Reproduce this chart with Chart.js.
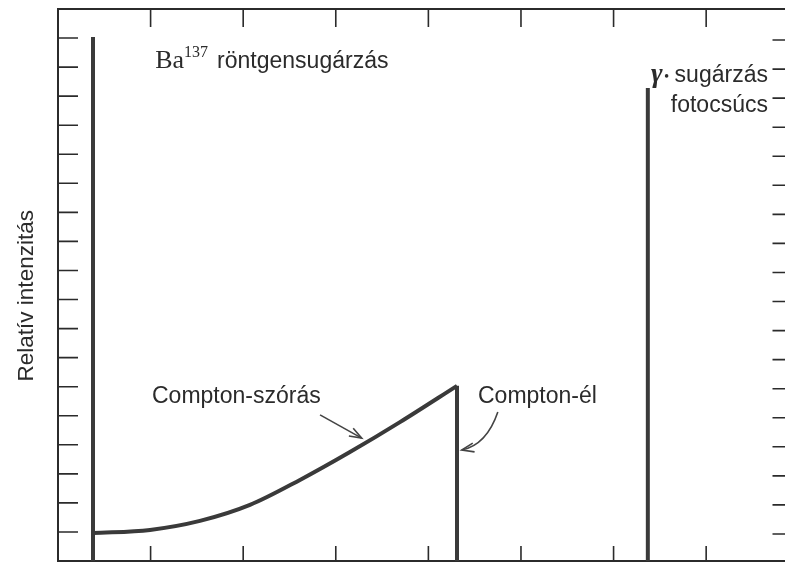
<!DOCTYPE html>
<html>
<head>
<meta charset="utf-8">
<script src="https://cdn.jsdelivr.net/npm/chart.js@4"></script>
<style>
html,body{margin:0;padding:0;overflow:hidden;background:#fff;}
#wrap{width:800px;height:563px;}
</style>
</head>
<body>
<div id="wrap"><canvas id="c" width="800" height="563"></canvas></div>
<script>
// ---- data ----
const xTicks = [1, 2, 3, 4, 5, 6, 7];
const yTicks = [1, 2, 3, 4, 5, 6, 7, 8, 9, 10, 11, 12, 13, 14, 15, 16, 17, 18];
const baX = [0.378, 0.378];
const baY = [0, 18.04];
const comptonX = [0.378, 0.994, 1.533, 2.073, 2.613, 3.153, 3.693, 4.309];
const comptonY = [0.96, 1.07, 1.38, 1.93, 2.79, 3.75, 4.78, 6.03];
const edgeX = [4.309, 4.309];
const edgeY = [6.03, 0];
const gammaX = [6.37, 6.37];
const gammaY = [0, 16.28];
const yTitle = 'Relatív intenzitás';
const labelBa = 'Ba';
const labelBaSup = '137';
const labelBaRest = 'röntgensugárzás';
const labelGamma = 'γ';
const labelGamma2 = 'sugárzás';
const labelPhoto = 'fotocsúcs';
const labelScatter = 'Compton-szórás';
const labelEdge = 'Compton-él';

const pts = (xs, ys) => xs.map((x, i) => ({x: x, y: ys[i]}));
const INK = '#2b2b2b';
const LINE = '#3a3a3a';

const framePlugin = {
  id: 'frame',
  beforeDatasetsDraw(chart) {
    const {ctx, chartArea: a, scales: {x, y}} = chart;
    ctx.save();
    ctx.strokeStyle = INK;
    ctx.lineWidth = 2;
    ctx.strokeRect(a.left, a.top, a.right - a.left, a.bottom - a.top);
    ctx.lineWidth = 1.6;
    ctx.beginPath();
    yTicks.forEach(v => {
      const py = y.getPixelForValue(v);
      ctx.moveTo(a.left, py); ctx.lineTo(a.left + 20, py);
      ctx.moveTo(a.right, py + 2); ctx.lineTo(a.right - 17, py + 2);
    });
    xTicks.forEach(v => {
      const px = x.getPixelForValue(v);
      ctx.moveTo(px, a.top); ctx.lineTo(px, a.top + 18);
      ctx.moveTo(px, a.bottom); ctx.lineTo(px, a.bottom - 15);
    });
    ctx.stroke();
    ctx.restore();
  },
  afterDraw(chart) {
    const {ctx, scales: {x, y}} = chart;
    const P = (dx, dy) => [x.getPixelForValue(dx), y.getPixelForValue(dy)];
    ctx.save();
    ctx.fillStyle = INK;
    ctx.textBaseline = 'alphabetic';
    // y title
    let [tx, ty] = P(-0.265, 9.13);
    ctx.save();
    ctx.translate(tx, ty);
    ctx.rotate(-Math.PI / 2);
    ctx.textAlign = 'center';
    ctx.font = '22.5px "Liberation Sans", Arial, sans-serif';
    ctx.fillText(yTitle, 0, 0);
    ctx.restore();
    // Ba label
    ctx.textAlign = 'left';
    let [bx, by] = P(1.05, 16.97);
    ctx.font = '26px "Liberation Serif", serif';
    ctx.fillText(labelBa, bx, by);
    const wBa = ctx.measureText(labelBa).width;
    ctx.font = '16px "Liberation Serif", serif';
    ctx.fillText(labelBaSup, bx + wBa, by - 11);
    const wSup = ctx.measureText(labelBaSup).width;
    ctx.font = '23px "Liberation Sans", Arial, sans-serif';
    ctx.fillText(labelBaRest, bx + wBa + wSup + 9, by);
    // gamma labels
    ctx.textAlign = 'right';
    let [gx, gy] = P(7.667, 16.49);
    ctx.fillText(labelGamma2, gx, gy);
    const wG2 = ctx.measureText(labelGamma2).width;
    ctx.beginPath();
    ctx.arc(gx - wG2 - 8, gy - 6, 1.8, 0, Math.PI * 2);
    ctx.fill();
    ctx.font = 'italic bold 28px "Liberation Serif", serif';
    ctx.fillText(labelGamma, gx - wG2 - 12, gy);
    ctx.font = '23px "Liberation Sans", Arial, sans-serif';
    let [fx, fy] = P(7.667, 15.46);
    ctx.fillText(labelPhoto, fx, fy);
    // Compton labels
    ctx.textAlign = 'left';
    let [sx, sy] = P(1.015, 5.44);
    ctx.fillText(labelScatter, sx, sy);
    let [ex, ey] = P(4.536, 5.44);
    ctx.fillText(labelEdge, ex, ey);
    // arrows
    ctx.strokeStyle = '#444';
    ctx.lineWidth = 1.6;
    const head = (tipX, tipY, ang) => {
      ctx.beginPath();
      ctx.moveTo(tipX + 13 * Math.cos(ang + 0.35), tipY + 13 * Math.sin(ang + 0.35));
      ctx.lineTo(tipX, tipY);
      ctx.lineTo(tipX + 13 * Math.cos(ang - 0.35), tipY + 13 * Math.sin(ang - 0.35));
      ctx.stroke();
    };
    let [a1x, a1y] = P(2.83, 5.03);
    let [t1x, t1y] = P(3.28, 4.23);
    ctx.beginPath(); ctx.moveTo(a1x, a1y); ctx.lineTo(t1x, t1y); ctx.stroke();
    head(t1x, t1y, Math.atan2(a1y - t1y, a1x - t1x));
    let [a2x, a2y] = P(4.75, 5.13);
    let [c2x, c2y] = P(4.63, 4.0);
    let [t2x, t2y] = P(4.36, 3.82);
    ctx.beginPath(); ctx.moveTo(a2x, a2y); ctx.quadraticCurveTo(c2x, c2y, t2x, t2y); ctx.stroke();
    head(t2x, t2y, Math.atan2(c2y - t2y, c2x - t2x));
    ctx.restore();
  }
};

const lineDs = (data, smooth) => ({
  data: data, showLine: true, borderColor: LINE, borderWidth: 4,
  pointRadius: 0, fill: false, borderCapStyle: 'butt',
  cubicInterpolationMode: smooth ? 'monotone' : 'default', tension: 0
});

new Chart(document.getElementById('c'), {
  type: 'scatter',
  data: {
    datasets: [
      lineDs(pts(baX, baY), false),
      lineDs(pts(comptonX, comptonY), true),
      lineDs(pts(edgeX, edgeY), false),
      lineDs(pts(gammaX, gammaY), false)
    ]
  },
  options: {
    responsive: false,
    animation: false,
    devicePixelRatio: 1,
    layout: {padding: {left: 58, top: 9, right: 10.5, bottom: 2}},
    plugins: {legend: {display: false}, tooltip: {enabled: false}},
    scales: {
      x: {type: 'linear', min: 0, max: 7.9, display: false},
      y: {type: 'linear', min: 0, max: 19, display: false}
    }
  },
  plugins: [framePlugin]
});
</script>
</body>
</html>
